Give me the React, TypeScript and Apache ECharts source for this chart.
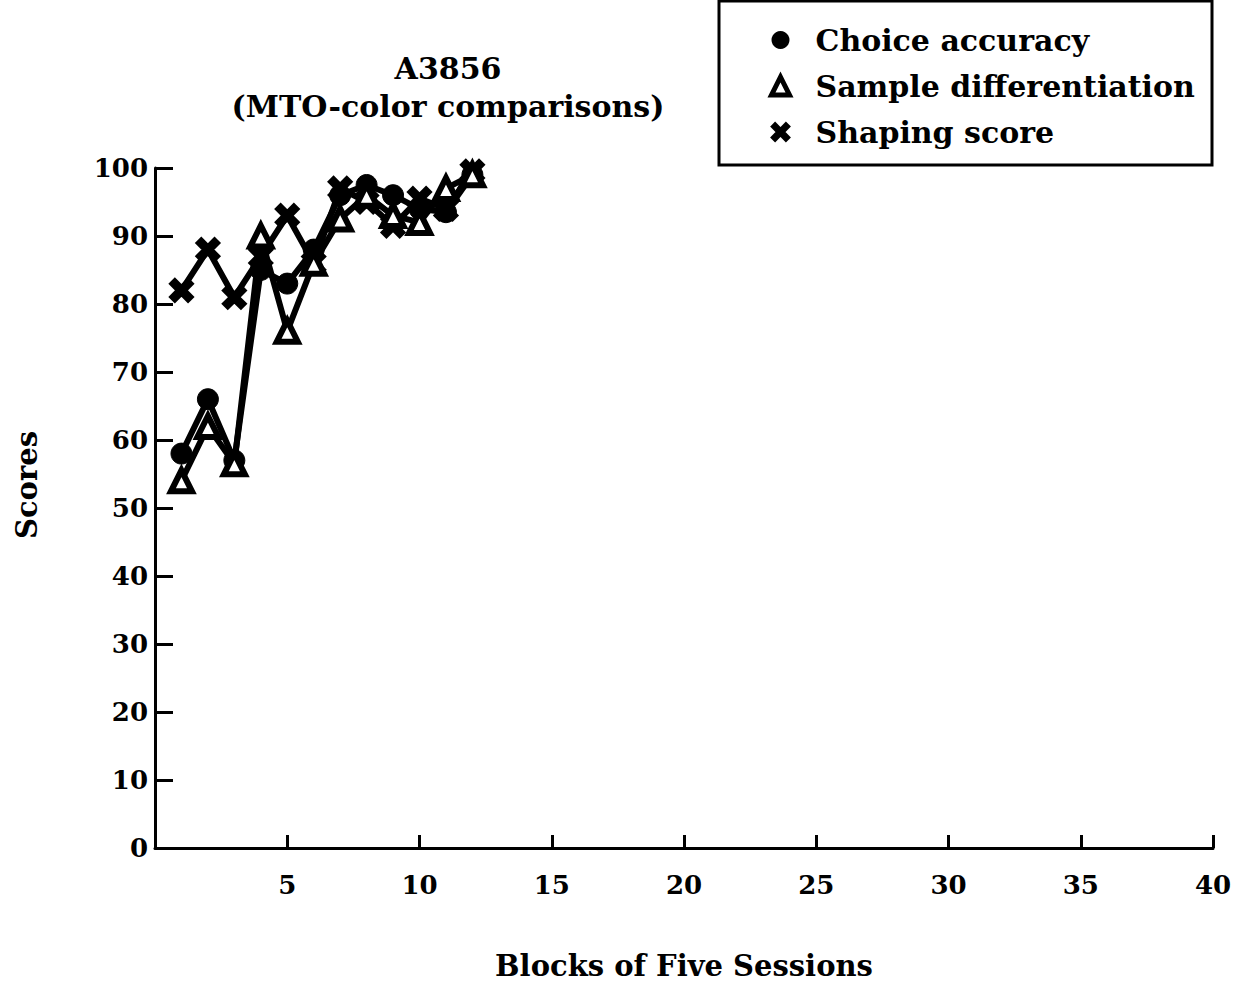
import React, { useEffect, useRef } from "react";
import * as echarts from "echarts";

const blocks = [1, 2, 3, 4, 5, 6, 7, 8, 9, 10, 11, 12];
const choiceAccuracy = [58, 66, 57, 85, 83, 88, 96, 97.5, 96, 94, 93.5, 99];
const sampleDifferentiation = [54, 62, 56.5, 90, 76, 86, 92.5, 96, 93, 92, 97, 99];
const shapingScore = [82, 88, 81, 87, 93, 86, 97, 95, 91.5, 95.5, 94, 99.5];
const seriesNames = ["Choice accuracy", "Sample differentiation", "Shaping score"];
const titleLines = ["A3856", "(MTO-color comparisons)"];
const xName = "Blocks of Five Sessions";
const yName = "Scores";

const FONT = "DejaVu Serif";
const XPATH =
  "path://M0,2 L2,0 L5,3 L8,0 L10,2 L7,5 L10,8 L8,10 L5,7 L2,10 L0,8 L3,5 Z";

export default function App() {
  const ref = useRef<HTMLDivElement>(null);
  useEffect(() => {
    if (!ref.current) return;
    const chart = echarts.init(ref.current, null, { renderer: "svg" });
    const pair = (ys: number[]) => blocks.map((x, i) => [x, ys[i]]);
    chart.setOption({
      animation: false,
      backgroundColor: "#fff",
      title: {
        text: titleLines.join("\n"),
        left: 443,
        top: 44,
        textAlign: "center",
        textStyle: {
          fontFamily: FONT,
          fontSize: 30,
          fontWeight: "bold",
          color: "#000",
          lineHeight: 38,
        },
      },
      graphic: [
        {
          type: "rect",
          shape: { x: 719, y: 1, width: 493, height: 164 },
          style: { fill: "none", stroke: "#000", lineWidth: 3 },
        },
        {
          type: "text",
          x: 27,
          y: 485,
          rotation: Math.PI / 2,
          style: {
            text: yName,
            fontFamily: FONT,
            fontSize: 29,
            fontWeight: "bold",
            fill: "#000",
            align: "center",
            verticalAlign: "middle",
          },
        },
      ],
      legend: {
        orient: "vertical",
        left: 764,
        top: 20,
        itemGap: 16,
        itemWidth: 18,
        itemHeight: 18,
        textStyle: {
          fontFamily: FONT,
          fontSize: 30,
          fontWeight: "bold",
          color: "#000",
          padding: [0, 0, 0, 21],
        },
        data: [
          { name: seriesNames[0], icon: "circle", itemStyle: { color: "#000" } },
          {
            name: seriesNames[1],
            icon: "triangle",
            itemStyle: { color: "#fff", borderColor: "#000", borderWidth: 5 },
          },
          { name: seriesNames[2], icon: XPATH, itemStyle: { color: "#000" } },
        ],
      },
      grid: {
        left: 155,
        right: 32,
        top: 168,
        bottom: 134,
        containLabel: false,
        outerBoundsMode: "none",
      },
      xAxis: {
        type: "value",
        min: 0,
        max: 40,
        interval: 5,
        name: xName,
        nameLocation: "middle",
        nameGap: 103,
        nameTextStyle: { fontFamily: FONT, fontSize: 29, fontWeight: "bold", color: "#000" },
        axisLine: { lineStyle: { color: "#000", width: 3 } },
        axisTick: { inside: true, length: 13, lineStyle: { color: "#000", width: 3 } },
        axisLabel: {
          fontFamily: FONT,
          fontSize: 26,
          fontWeight: "bold",
          color: "#000",
          margin: 24,
          formatter: (v: number) => (v === 0 ? "" : String(v)),
        },
        splitLine: { show: false },
      },
      yAxis: {
        type: "value",
        min: 0,
        max: 100,
        interval: 10,
        axisLine: { show: true, lineStyle: { color: "#000", width: 3 } },
        axisTick: { show: true, inside: true, length: 18, lineStyle: { color: "#000", width: 3 } },
        axisLabel: { fontFamily: FONT, fontSize: 26, fontWeight: "bold", color: "#000", margin: 7 },
        splitLine: { show: false },
      },
      series: [
        {
          name: seriesNames[0],
          type: "line",
          data: pair(choiceAccuracy),
          symbol: "circle",
          symbolSize: 21,
          lineStyle: { color: "#000", width: 6 },
          itemStyle: { color: "#000", borderColor: "#000" },
          z: 3,
        },
        {
          name: seriesNames[1],
          type: "line",
          data: pair(sampleDifferentiation),
          symbol: "triangle",
          symbolSize: 21,
          lineStyle: { color: "#000", width: 6 },
          itemStyle: { color: "#fff", borderColor: "#000", borderWidth: 6 },
          z: 4,
        },
        {
          name: seriesNames[2],
          type: "line",
          data: pair(shapingScore),
          symbol: XPATH,
          symbolSize: 22,
          lineStyle: { color: "#000", width: 6 },
          itemStyle: { color: "#000", borderColor: "#000", borderWidth: 3 },
          z: 2,
        },
      ],
    });
    return () => chart.dispose();
  }, []);
  return (
    <div
      ref={ref}
      style={{ position: "absolute", left: 0, top: 0, width: 1245, height: 982 }}
    />
  );
}
